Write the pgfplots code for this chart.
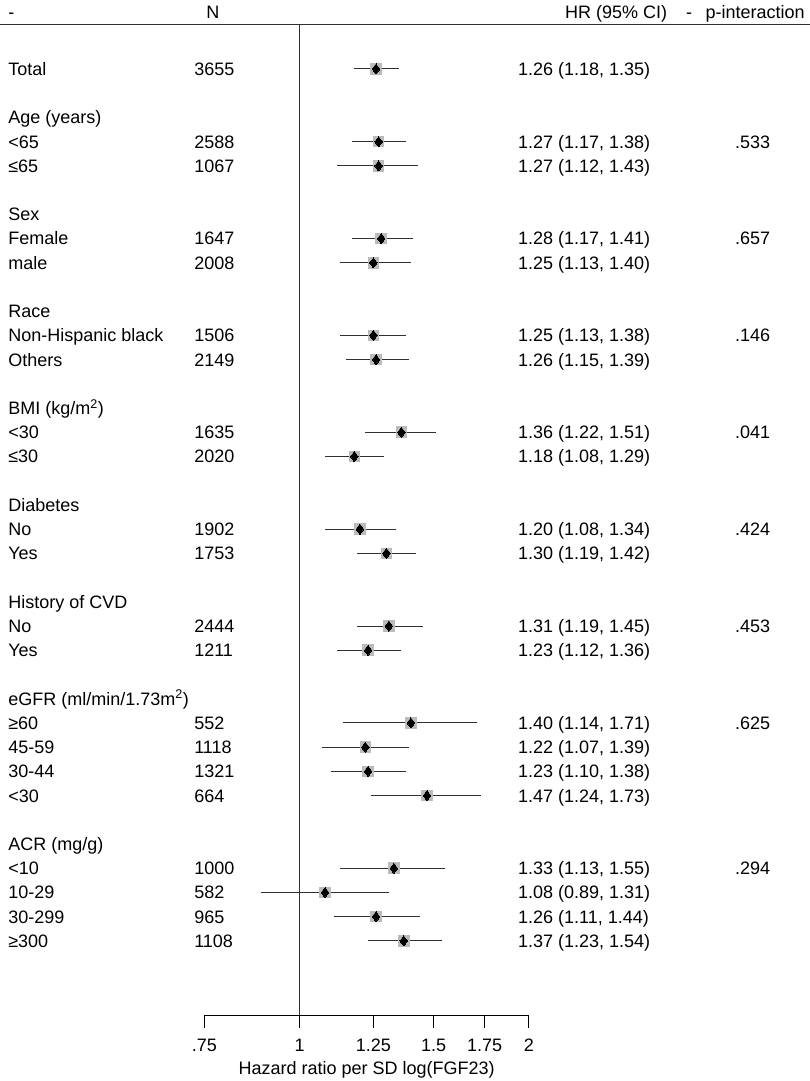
\documentclass[border=0pt]{standalone}
\usepackage{pgfplots}
\pgfplotsset{compat=1.18}
\usepackage{pgfplotstable}
\usepackage{fontspec}
\setmainfont{Liberation Sans}

\definecolor{markgray}{HTML}{BBBBBB}
\definecolor{linegray}{HTML}{303030}

% row position (0 = Total, negative downwards), HR, lower and upper 95% CI
\pgfplotstableread{
row hr lo hi
0 1.26 1.18 1.35
-3 1.27 1.17 1.38
-4 1.27 1.12 1.43
-7 1.28 1.17 1.41
-8 1.25 1.13 1.40
-11 1.25 1.13 1.38
-12 1.26 1.15 1.39
-15 1.36 1.22 1.51
-16 1.18 1.08 1.29
-19 1.20 1.08 1.34
-20 1.30 1.19 1.42
-23 1.31 1.19 1.45
-24 1.23 1.12 1.36
-27 1.40 1.14 1.71
-28 1.22 1.07 1.39
-29 1.23 1.10 1.38
-30 1.47 1.24 1.73
-33 1.33 1.13 1.55
-34 1.08 0.89 1.31
-35 1.26 1.11 1.44
-36 1.37 1.23 1.54
}\fpdata

\newcommand\fs{\fontsize{18}{21.6}\selectfont}
\tikzset{txt/.style={anchor=west, inner sep=0pt, text height=12.9pt, text depth=0pt, font=\fs}}
\newcommand\rowtxt[5]{%
 \node[txt] at (axis cs:0.4145,#1) {#2};
 \node[txt] at (axis cs:0.7271,#1) {#3};
 \node[txt] at (axis cs:1.9350,#1) {#4};
 \node[txt] at (axis cs:3.7273,#1) {#5};}

\begin{document}
\begin{tikzpicture}
\useasboundingbox (0,0) rectangle (810pt,1081pt);
\begin{axis}[
  at={(204.3pt,66pt)}, anchor=south west,
  scale only axis, width=324.6pt, height=990pt,
  xmode=log, xmin=0.75, xmax=2, ymin=-39.059, ymax=1.8167,
  axis x line*=bottom, axis y line=none,
  x axis line style={line width=1pt, black},
  xtick={0.75,1,1.25,1.5,1.75,2},
  xticklabels={.75,1,1.25,1.5,1.75,2},
  xminorticks=false,
  tick align=outside, major tick length=13pt,
  tick style={line width=1pt, black},
  xticklabel style={font=\fs, inner sep=0pt, text height=12.9pt, text depth=0pt, yshift=-10pt},
  clip=false,
]
% confidence intervals
\addplot[draw=none, mark=none, forget plot,
  error bars/.cd, x dir=both, x explicit, error mark=none,
  error bar style={draw=linegray, line width=1pt, solid}]
  table[x=hr, y=row, x error plus expr=\thisrow{hi}-\thisrow{hr},
        x error minus expr=\thisrow{hr}-\thisrow{lo}] {\fpdata};
% weight boxes
\addplot[only marks, mark=square*, mark size=5.3pt,
  mark options={draw=markgray, fill=markgray, line width=0pt}]
  table[x=hr, y=row] {\fpdata};
% point estimates
\addplot[only marks, mark=diamond*, mark size=5pt,
  mark options={draw=black, fill=black, line width=0pt}]
  table[x=hr, y=row] {\fpdata};

\draw[line width=1.1pt, linegray] (axis cs:1,1.8167) -- (axis cs:1,-39.059);
\draw[line width=1pt, linegray] (axis cs:0.4046,1.8167) -- (axis cs:4.675,1.8167);

% header
\node[txt] at (axis cs:0.4145,2.353) {-};
\node[txt] at (axis cs:0.7539,2.353) {N};
\node[txt] at (axis cs:2.2303,2.353) {HR (95\% CI)};
\node[txt] at (axis cs:3.2145,2.353) {-};
\node[txt, anchor=east] at (axis cs:4.6054,2.353) {p-interaction};

\rowtxt{0}{Total}{3655}{1.26 (1.18, 1.35)}{}
\rowtxt{-2}{Age (years)}{}{}{}
\rowtxt{-3}{<65}{2588}{1.27 (1.17, 1.38)}{.533}
\rowtxt{-4}{≤65}{1067}{1.27 (1.12, 1.43)}{}
\rowtxt{-6}{Sex}{}{}{}
\rowtxt{-7}{Female}{1647}{1.28 (1.17, 1.41)}{.657}
\rowtxt{-8}{male}{2008}{1.25 (1.13, 1.40)}{}
\rowtxt{-10}{Race}{}{}{}
\rowtxt{-11}{Non-Hispanic black}{1506}{1.25 (1.13, 1.38)}{.146}
\rowtxt{-12}{Others}{2149}{1.26 (1.15, 1.39)}{}
\rowtxt{-14}{BMI (kg/m\textsuperscript{2})}{}{}{}
\rowtxt{-15}{<30}{1635}{1.36 (1.22, 1.51)}{.041}
\rowtxt{-16}{≤30}{2020}{1.18 (1.08, 1.29)}{}
\rowtxt{-18}{Diabetes}{}{}{}
\rowtxt{-19}{No}{1902}{1.20 (1.08, 1.34)}{.424}
\rowtxt{-20}{Yes}{1753}{1.30 (1.19, 1.42)}{}
\rowtxt{-22}{History of CVD}{}{}{}
\rowtxt{-23}{No}{2444}{1.31 (1.19, 1.45)}{.453}
\rowtxt{-24}{Yes}{1211}{1.23 (1.12, 1.36)}{}
\rowtxt{-26}{eGFR (ml/min/1.73m\textsuperscript{2})}{}{}{}
\rowtxt{-27}{≥60}{552}{1.40 (1.14, 1.71)}{.625}
\rowtxt{-28}{45-59}{1118}{1.22 (1.07, 1.39)}{}
\rowtxt{-29}{30-44}{1321}{1.23 (1.10, 1.38)}{}
\rowtxt{-30}{<30}{664}{1.47 (1.24, 1.73)}{}
\rowtxt{-32}{ACR (mg/g)}{}{}{}
\rowtxt{-33}{<10}{1000}{1.33 (1.13, 1.55)}{.294}
\rowtxt{-34}{10-29}{582}{1.08 (0.89, 1.31)}{}
\rowtxt{-35}{30-299}{965}{1.26 (1.11, 1.44)}{}
\rowtxt{-36}{≥300}{1108}{1.37 (1.23, 1.54)}{}

\node[anchor=center, inner sep=0pt, text height=12.9pt, text depth=0pt, font=\fs]
  at (axis cs:1.2247,-41.25) {Hazard ratio per SD log(FGF23)};
\end{axis}
\end{tikzpicture}
\end{document}
